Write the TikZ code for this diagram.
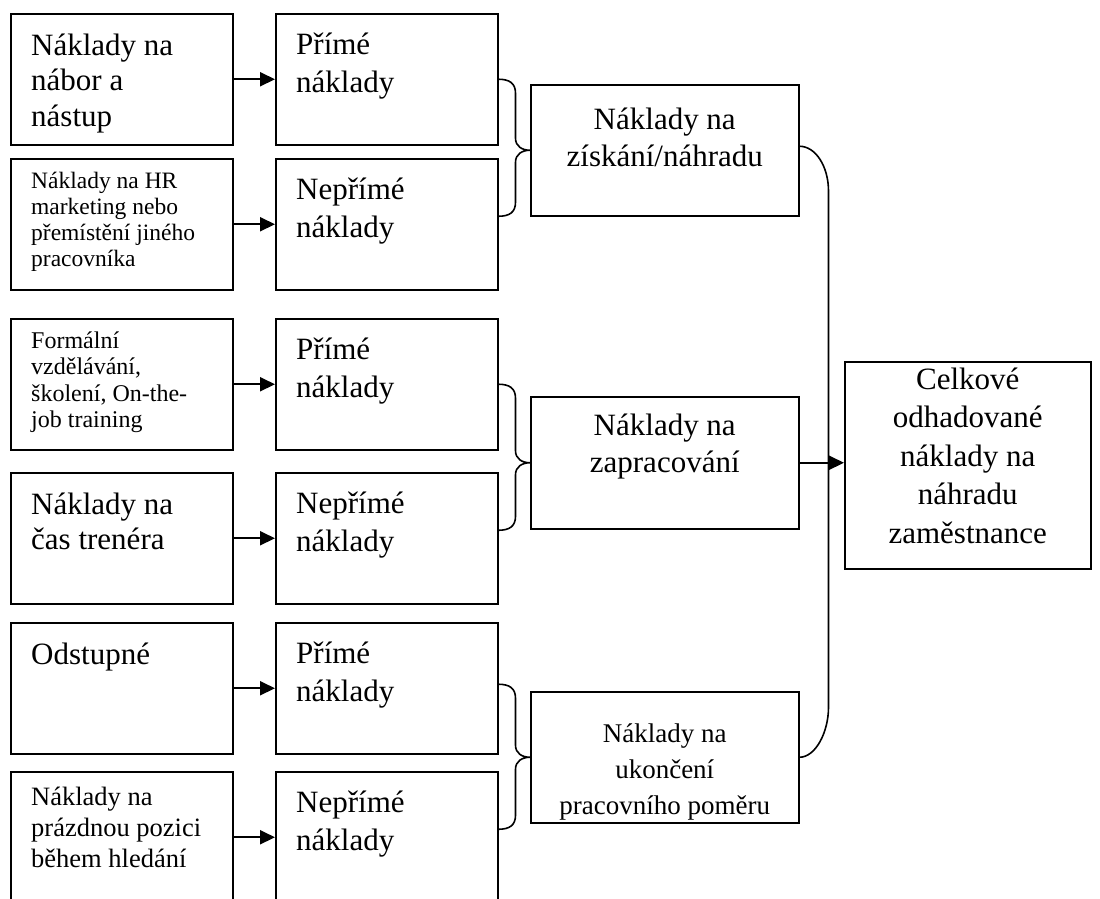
\documentclass[tikz,border=0pt]{standalone}
\usepackage{fontspec}
\setmainfont{Liberation Serif}
\usetikzlibrary{arrows.meta,calc}

% text block whose reference point is the baseline of its first line
\newcommand{\txtblock}[4]{\parbox[t]{#1}{\fontsize{#2}{#3}\selectfont\raggedright #4}}
\newcommand{\ctrblock}[4]{\parbox[t]{#1}{\fontsize{#2}{#3}\selectfont\centering #4}}

% curly bracket joining two boxes to a third box
\newcommand{\curlyjoin}[5]{%
  \draw[conn] let \p1=([yshift=#4]#1.east), \p2=([yshift=#5]#2.east), \p3=(#3.west) in
    (\p1) .. controls (\x1+11,\y1) and (\x1+17,\y1-4) .. (\x1+17,\y1-14)
    -- (\x1+17,\y3+12) .. controls (\x1+17,\y3+4) and (\x3-8,\y3) .. (\p3)
    .. controls (\x3-8,\y3) and (\x1+17,\y3-4) .. (\x1+17,\y3-12)
    -- (\x1+17,\y2+14) .. controls (\x1+17,\y2+4) and (\x1+11,\y2) .. (\p2);}

\begin{document}
\begin{tikzpicture}[x=1pt,y=-1pt,
  box/.style={draw=black, line width=1.5pt, anchor=north west, inner sep=0pt},
  cell/.style={box, minimum width=222pt, minimum height=131pt},
  lbl/.style={anchor=base west, inner sep=0pt},
  clbl/.style={anchor=base, inner sep=0pt},
  conn/.style={draw=black, line width=1.6pt},
  arr/.style={draw=black, line width=2pt, -{Triangle[length=15pt,width=14pt]}}]

\useasboundingbox (0,0) rectangle (1100,898);

% left column: cost items
\node[cell] (L1) at (10,13) {};
\node[cell] (L2) at (10,158) {};
\node[cell] (L3) at (10,318) {};
\node[cell] (L4) at (10,472) {};
\node[cell] (L5) at (10,622) {};
\node[cell] (L6) at (10,771) {};

% second column: direct / indirect
\node[cell] (P1) at (275,13) {};
\node[cell] (P2) at (275,158) {};
\node[cell] (P3) at (275,318) {};
\node[cell] (P4) at (275,472) {};
\node[cell] (P5) at (275,622) {};
\node[cell] (P6) at (275,771) {};

% cost groups
\node[box, minimum width=268pt, minimum height=131pt] (A) at (530,84) {};
\node[box, minimum width=268pt, minimum height=132pt] (B) at (530,396) {};
\node[box, minimum width=268pt, minimum height=131pt] (C) at (530,691) {};

% total
\node[box, minimum width=246pt, minimum height=207pt] (R) at (844,361) {};

% left column texts
\node[lbl] at ([xshift=21pt,yshift=-42pt]L1.north west) {\txtblock{205pt}{31}{35.5}{Náklady na\\nábor a\\nástup}};
\node[lbl] at ([xshift=21pt,yshift=-30pt]L2.north west) {\txtblock{205pt}{23.5}{26}{Náklady na HR\\marketing nebo\\přemístění jiného\\pracovníka}};
\node[lbl] at ([xshift=21pt,yshift=-30pt]L3.north west) {\txtblock{205pt}{24}{26.5}{Formální\\vzdělávání,\\školení, On-the-\\job training}};
\node[lbl] at ([xshift=21pt,yshift=-42pt]L4.north west) {\txtblock{205pt}{31}{35.5}{Náklady na\\čas trenéra}};
\node[lbl] at ([xshift=21pt,yshift=-42pt]L5.north west) {\txtblock{205pt}{31}{35.5}{Odstupné}};
\node[lbl] at ([xshift=21pt,yshift=-34pt]L6.north west) {\txtblock{205pt}{26.5}{31}{Náklady na\\prázdnou pozici\\během hledání}};

% second column texts
\node[lbl] at ([xshift=21pt,yshift=-41pt]P1.north west) {\txtblock{200pt}{31}{38}{Přímé\\náklady}};
\node[lbl] at ([xshift=21pt,yshift=-41pt]P2.north west) {\txtblock{200pt}{31}{38}{Nepřímé\\náklady}};
\node[lbl] at ([xshift=21pt,yshift=-41pt]P3.north west) {\txtblock{200pt}{31}{38}{Přímé\\náklady}};
\node[lbl] at ([xshift=21pt,yshift=-41pt]P4.north west) {\txtblock{200pt}{31}{38}{Nepřímé\\náklady}};
\node[lbl] at ([xshift=21pt,yshift=-41pt]P5.north west) {\txtblock{200pt}{31}{38}{Přímé\\náklady}};
\node[lbl] at ([xshift=21pt,yshift=-41pt]P6.north west) {\txtblock{200pt}{31}{38}{Nepřímé\\náklady}};

% group texts
\node[clbl] at ([yshift=-45pt]A.north) {\ctrblock{260pt}{31}{37}{Náklady na\\získání/náhradu}};
\node[clbl] at ([yshift=-39pt]B.north) {\ctrblock{260pt}{31}{37}{Náklady na\\zapracování}};
\node[clbl] at ([yshift=-51pt]C.north) {\ctrblock{260pt}{27}{36}{Náklady na\\ukončení\\pracovního poměru}};
\node[clbl] at ([yshift=-28pt]R.north) {\ctrblock{240pt}{31}{38.5}{Celkové\\odhadované\\náklady na\\náhradu\\zaměstnance}};

% arrows from items to cost kinds
\foreach \i in {1,...,6} \draw[arr] (L\i.east) -- (P\i.west);

% brackets to the groups
\curlyjoin{P1}{P2}{A}{0pt}{8pt}
\curlyjoin{P3}{P4}{B}{0pt}{8pt}
\curlyjoin{P5}{P6}{C}{4pt}{8pt}

% bracket collecting the three groups
\draw[conn] let \p1=([yshift=4pt]A.east), \p2=(C.east) in
  (\p1) .. controls (\x1+16,\y1) and (\x1+29,\y1-20) .. (\x1+29,\y1-45)
  -- (\x1+29,\y2+50) .. controls (\x1+29,\y2+25) and (\x1+16,\y2) .. (\p2);

% into the total
\draw[arr] (B.east) -- (B.east -| R.west);
\end{tikzpicture}
\end{document}
